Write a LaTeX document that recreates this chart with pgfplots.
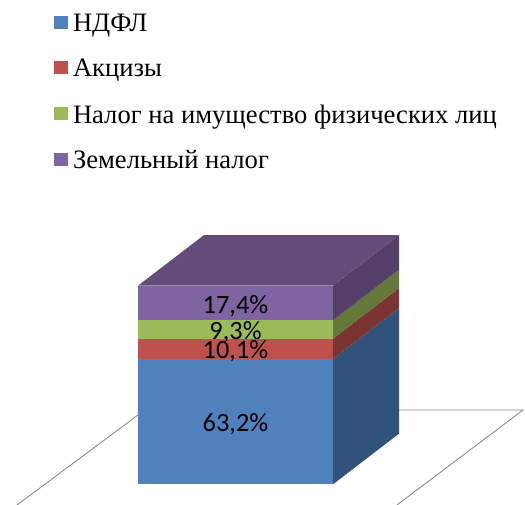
\documentclass[border=0pt]{standalone}
\usepackage{fontspec}
\setmainfont{Liberation Serif}
\newfontfamily\lab{Carlito}
\usepackage{pgfplots}
\pgfplotsset{compat=1.18}
\definecolor{cB}{HTML}{4F81BD}\definecolor{cR}{HTML}{C0504D}\definecolor{cG}{HTML}{9BBB59}\definecolor{cP}{HTML}{8064A2}
\definecolor{sB}{HTML}{31527A}\definecolor{sR}{HTML}{7A3432}\definecolor{sG}{HTML}{637839}\definecolor{sP}{HTML}{533F68}\definecolor{tP}{HTML}{634C7A}
\pgfplotsset{base/.style={scale only axis,width=525pt,height=505pt,xmin=0,xmax=525,ymin=-10.42,ymax=243.86,hide axis,clip=true}}
\begin{document}
\begin{tikzpicture}
\useasboundingbox (0,0) rectangle (525pt,505pt);
\begin{axis}[base]
\addplot[draw=black!45,line width=0.9pt] coordinates {(17,-10.42)(144.7,37.4)(523,37.4)(397,-10.42)};
\addplot[fill=sB,draw=none] coordinates {(333,0)(399,25.5)(399,88.7)(333,63.2)} --cycle;
\addplot[fill=sR,draw=none] coordinates {(333,63.2)(399,88.7)(399,98.8)(333,73.3)} --cycle;
\addplot[fill=sG,draw=none] coordinates {(333,73.3)(399,98.8)(399,108.1)(333,82.6)} --cycle;
\addplot[fill=sP,draw=none] coordinates {(333,82.6)(399,108.1)(399,125.5)(333,100)} --cycle;
\addplot[fill=tP,draw=none] coordinates {(138,100)(333,100)(399,125.5)(204,125.5)} --cycle;
\end{axis}
\begin{axis}[base,ybar stacked,bar width=195,
  legend style={at={(axis cs:54,236.7)},anchor=north west,draw=none,fill=none,inner sep=0pt,outer sep=0pt,
    font=\fontsize{26.6}{26.6}\selectfont,row sep=26.2pt,
    nodes={inner sep=0pt,outer sep=0pt,anchor=base west}},
  legend cell align=left,
  legend image code/.code={\fill[#1] (0pt,2.7pt) rectangle (14pt,16pt);\path (19pt,0pt);}]
\addplot[fill=cB,draw=none] coordinates {(235.5,63.2)};
\addplot[fill=cR,draw=none] coordinates {(235.5,10.1)};
\addplot[fill=cG,draw=none] coordinates {(235.5,9.3)};
\addplot[fill=cP,draw=none] coordinates {(235.5,17.4)};
\legend{НДФЛ,Акцизы,Налог на имущество физических лиц,Земельный налог}
\end{axis}
\begin{axis}[base]
\node[font=\lab\fontsize{26.4}{26.4}\selectfont] at (axis cs:235.5,30.2) {63,2\%};
\node[font=\lab\fontsize{26.4}{26.4}\selectfont] at (axis cs:235.5,67) {10,1\%};
\node[font=\lab\fontsize{26.4}{26.4}\selectfont] at (axis cs:235.5,76.5) {9,3\%};
\node[font=\lab\fontsize{26.4}{26.4}\selectfont] at (axis cs:235.5,89.8) {17,4\%};
\end{axis}
\end{tikzpicture}
\end{document}
